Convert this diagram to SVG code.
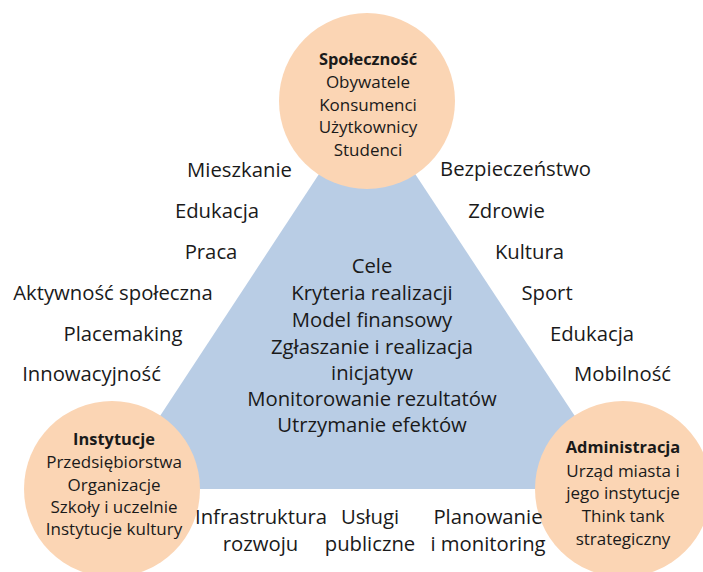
<svg xmlns="http://www.w3.org/2000/svg" width="703" height="572" viewBox="0 0 703 572">
<style>
text{font-family:"Open Sans","Noto Sans","DejaVu Sans",sans-serif;font-size:20.3px;fill:#1a1a1a;text-anchor:middle}
.s{font-size:17px}
.b{font-weight:bold;font-size:16.4px}
.c{fill:#FBD5B4}
.t{fill:#B9CDE5}
</style>
<rect width="703" height="572" fill="#ffffff"/>
<g id="triangle">
<polygon class="t" points="367,101 112,489 623,489"/>
<text x="372" y="273">Cele</text>
<text x="372" y="300">Kryteria realizacji</text>
<text x="372" y="327">Model finansowy</text>
<text x="372" y="354">Zgłaszanie i realizacja</text>
<text x="372" y="380">inicjatyw</text>
<text x="372" y="406">Monitorowanie rezultatów</text>
<text x="372" y="432">Utrzymanie efektów</text>
</g>
<g id="spolecznosc">
<circle class="c" cx="367" cy="101" r="88"/>
<text class="b" x="368" y="65">Społeczność</text>
<text class="s" x="368" y="88">Obywatele</text>
<text class="s" x="368" y="111">Konsumenci</text>
<text class="s" x="368" y="133">Użytkownicy</text>
<text class="s" x="368" y="156">Studenci</text>
</g>
<g id="instytucje">
<circle class="c" cx="112" cy="489" r="88"/>
<text class="b" x="114" y="445">Instytucje</text>
<text class="s" x="114" y="468">Przedsiębiorstwa</text>
<text class="s" x="114" y="491">Organizacje</text>
<text class="s" x="114" y="513">Szkoły i uczelnie</text>
<text class="s" x="114" y="535">Instytucje kultury</text>
</g>
<g id="administracja">
<circle class="c" cx="623" cy="489" r="88"/>
<text class="b" x="623" y="453">Administracja</text>
<text class="s" x="623" y="477">Urząd miasta i</text>
<text class="s" x="623" y="499">jego instytucje</text>
<text class="s" x="623" y="522">Think tank</text>
<text class="s" x="623" y="545">strategiczny</text>
</g>
<g id="left-labels">
<text x="239.5" y="177">Mieszkanie</text>
<text x="217" y="218">Edukacja</text>
<text x="211" y="259">Praca</text>
<text x="113" y="300">Aktywność społeczna</text>
<text x="123" y="341">Placemaking</text>
<text x="91.5" y="381">Innowacyjność</text>
</g>
<g id="right-labels">
<text x="515.5" y="176">Bezpieczeństwo</text>
<text x="506.5" y="218">Zdrowie</text>
<text x="529.5" y="259">Kultura</text>
<text x="547" y="300">Sport</text>
<text x="592" y="341">Edukacja</text>
<text x="622.5" y="381">Mobilność</text>
</g>
<g id="bottom-labels">
<text x="261" y="524">Infrastruktura</text>
<text x="260.5" y="551">rozwoju</text>
<text x="370" y="524">Usługi</text>
<text x="370" y="551">publiczne</text>
<text x="488" y="524">Planowanie</text>
<text x="488" y="551">i monitoring</text>
</g>
<g id="connectors"/>
</svg>
